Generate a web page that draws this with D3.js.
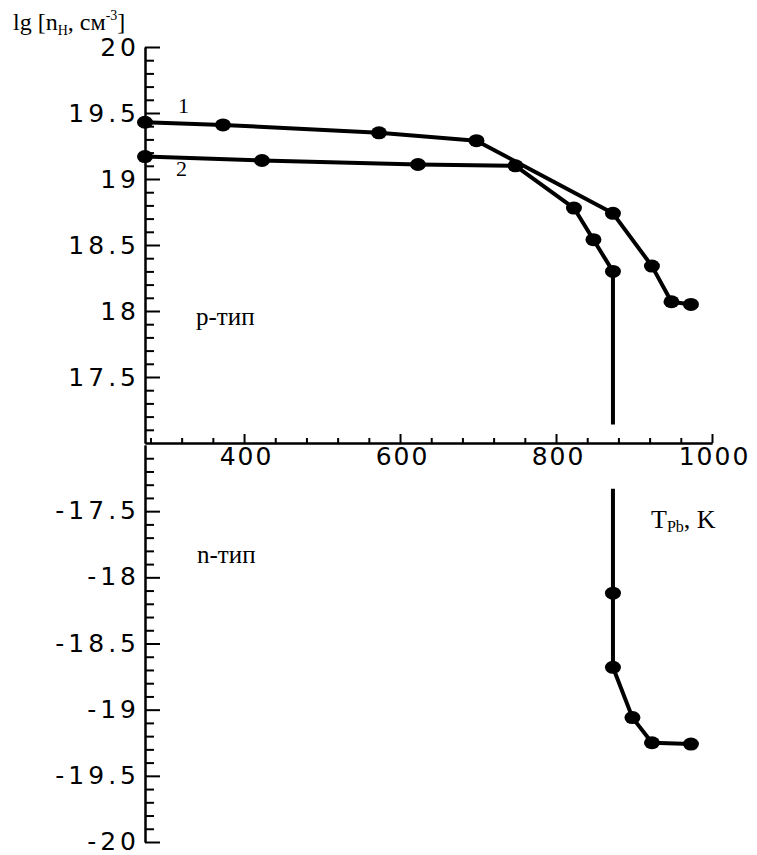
<!DOCTYPE html>
<html>
<head>
<meta charset="utf-8">
<script src="https://cdn.jsdelivr.net/npm/d3@7"></script>
<style>
  body { margin: 0; background: #fff; }
  .tick text { font-family: "DejaVu Sans", sans-serif; }
  .note { font-family: "Liberation Serif", "Times New Roman", serif; fill: #000; }
</style>
</head>
<body>
<div id="chart"></div>
<script>
// p-type branch, curve 1 and curve 2 (T in K, lg n)
const temps1 = [273, 373, 573, 698, 873, 923, 948, 973];
const lgN1 = [19.43, 19.41, 19.35, 19.29, 18.74, 18.34, 18.07, 18.05];
const temps2 = [273, 423, 623, 748, 823, 848, 873];
const lgN2 = [19.17, 19.14, 19.11, 19.10, 18.78, 18.54, 18.30];
// n-type branch (continuation of curve 2)
const tempsN = [873, 873, 898, 923, 973];
const lgNn = [-18.12, -18.68, -19.06, -19.25, -19.26];
// where the vertical transition is cut at the axis break
const breakTemp = 873;
const breakTop = 17.14;
const breakBottom = -17.33;

const xMajor = [400, 600, 800, 1000];
const yMajorTop = [17.5, 18, 18.5, 19, 19.5, 20];
const yMajorBot = [-17.5, -18, -18.5, -19, -19.5, -20];

const width = 757, height = 855;
const ls = 4; // letter spacing of tick labels

const svg = d3.select("#chart").append("svg")
    .attr("width", width)
    .attr("height", height);

const x = d3.scaleLinear().domain([273, 1000]).range([145, 712]);
const yTop = d3.scaleLinear().domain([17, 20]).range([443, 47]);
const yBot = d3.scaleLinear().domain([-17, -20]).range([445, 842]);

// minor tick values
const xMinor = d3.range(280, 1000, 40).filter(v => v % 200 !== 0);
const yMinorTop = d3.range(171, 200).map(v => v / 10).filter(v => Math.round(v * 10) % 5 !== 0);
const yMinorBot = yMinorTop.map(v => -v);

const fmt = d => String(d);

function styleAxis(g) {
    g.selectAll("line").attr("stroke", "#000").attr("stroke-width", 2);
    g.selectAll("path.domain").attr("stroke", "#000").attr("stroke-width", 2);
    g.selectAll("text")
        .attr("fill", "#000")
        .style("font-size", "25px")
        .style("letter-spacing", ls + "px");
}

// y axis, top part
svg.append("g")
    .attr("transform", "translate(145,0)")
    .call(d3.axisLeft(yTop).tickValues(yMinorTop).tickSize(-9).tickSizeOuter(0).tickFormat(""))
    .call(styleAxis);
svg.append("g")
    .attr("transform", "translate(145,0)")
    .call(d3.axisLeft(yTop).tickValues(yMajorTop).tickSize(-15).tickSizeOuter(0).tickPadding(5).tickFormat(fmt))
    .call(styleAxis);

// y axis, bottom part
svg.append("g")
    .attr("transform", "translate(145,0)")
    .call(d3.axisLeft(yBot).tickValues(yMinorBot).tickSize(-9).tickSizeOuter(0).tickFormat(""))
    .call(styleAxis);
svg.append("g")
    .attr("transform", "translate(145,0)")
    .call(d3.axisLeft(yBot).tickValues(yMajorBot).tickSize(-15).tickSizeOuter(0).tickPadding(5).tickFormat(fmt))
    .call(styleAxis)
    .selectAll("text").attr("dy", "0.3em");

// x axis
svg.append("g")
    .attr("transform", "translate(0,443)")
    .call(d3.axisBottom(x).tickValues(xMinor).tickSize(-5).tickSizeOuter(0).tickFormat(""))
    .call(styleAxis);
svg.append("g")
    .attr("transform", "translate(0,443)")
    .call(d3.axisBottom(x).tickValues(xMajor).tickSize(-9).tickSizeOuter(0).tickPadding(4).tickFormat(fmt))
    .call(styleAxis)
    .selectAll("text").attr("dx", ls / 2).style("letter-spacing", "2px");

// curves
const lineTop = d3.line().x(d => x(d[0])).y(d => yTop(d[1]));
const lineBot = d3.line().x(d => x(d[0])).y(d => yBot(d[1]));

const pts1 = temps1.map((t, i) => [t, lgN1[i]]);
const pts2 = temps2.map((t, i) => [t, lgN2[i]]);
const ptsN = tempsN.map((t, i) => [t, lgNn[i]]);

const drawPath = (d, gen) => svg.append("path")
    .attr("d", gen(d))
    .attr("fill", "none")
    .attr("stroke", "#000")
    .attr("stroke-width", 4)
    .attr("stroke-linejoin", "round");

drawPath(pts1, lineTop);
drawPath(pts2.concat([[breakTemp, breakTop]]), lineTop);
drawPath([[breakTemp, breakBottom]].concat(ptsN), lineBot);

const drawDots = (d, ys) => svg.append("g").selectAll("ellipse")
    .data(d)
    .enter().append("ellipse")
    .attr("cx", p => x(p[0]))
    .attr("cy", p => ys(p[1]))
    .attr("rx", 8)
    .attr("ry", 6.5)
    .attr("fill", "#000");

drawDots(pts1, yTop);
drawDots(pts2, yTop);
drawDots(ptsN, yBot);

// labels
const title = svg.append("text").attr("class", "note")
    .attr("x", 13).attr("y", 30).style("font-size", "24px");
title.append("tspan").text("lg [n");
title.append("tspan").attr("dy", 5).style("font-size", "14px").text("H");
title.append("tspan").attr("dy", -5).text(", см");
title.append("tspan").attr("dy", -10).style("font-size", "14px").text("-3");
title.append("tspan").attr("dy", 10).text("]");

svg.append("text").attr("class", "note")
    .attr("x", 178).attr("y", 113).style("font-size", "22px").text("1");
svg.append("text").attr("class", "note")
    .attr("x", 176).attr("y", 176).style("font-size", "22px").text("2");

svg.append("text").attr("class", "note")
    .attr("x", 196).attr("y", 325).style("font-size", "25px").text("p-тип");
svg.append("text").attr("class", "note")
    .attr("x", 197).attr("y", 563).style("font-size", "25px").text("n-тип");

const xl = svg.append("text").attr("class", "note")
    .attr("x", 651).attr("y", 528).style("font-size", "26px");
xl.append("tspan").text("T");
xl.append("tspan").attr("dy", 4).style("font-size", "16px").text("Pb");
xl.append("tspan").attr("dy", -4).text(", K");
</script>
</body>
</html>
